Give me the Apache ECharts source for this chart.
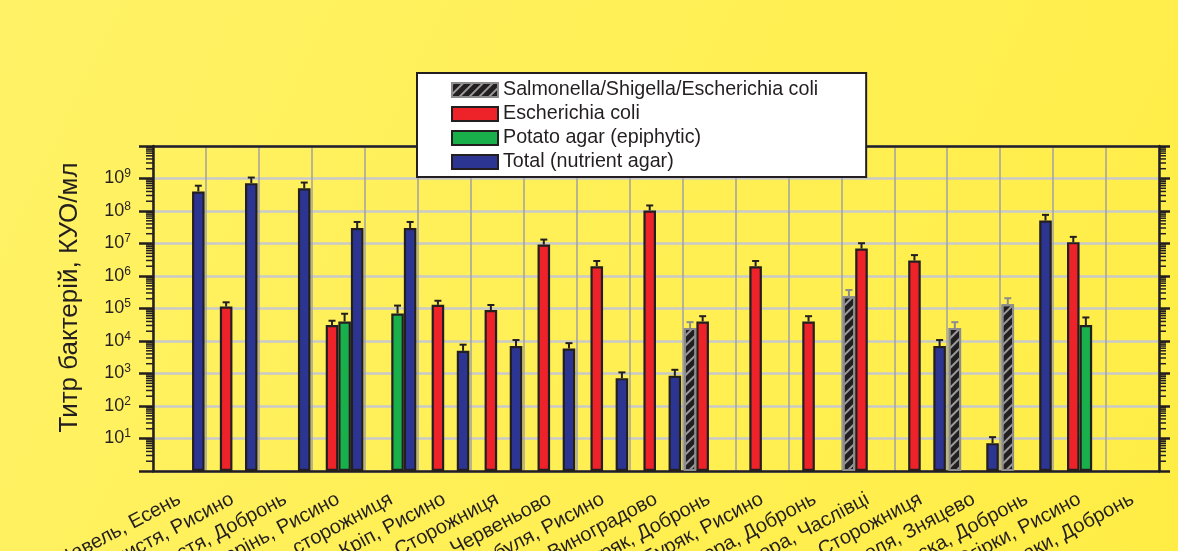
<!DOCTYPE html>
<html>
<head>
<meta charset="utf-8">
<script src="https://cdn.jsdelivr.net/npm/echarts@6/dist/echarts.min.js"></script>
<style>
  html, body { margin: 0; padding: 0; }
  #chart { width: 1178px; height: 551px; }
</style>
</head>
<body>
<div id="chart"></div>
<script>
// Sampling sites (product, village)
const categories = [
  'Щавель, Есень',
  'Петрушка листя, Рисино',
  'Петрушка листя, Добронь',
  'Петрушка корінь, Рисино',
  'Петрушка корінь, сторожниця',
  'Кріп, Рисино',
  'Кріп, Сторожниця',
  'Кріп, Червеньово',
  'Цибуля, Рисино',
  'Цибуля, Виноградово',
  'Буряк, Добронь',
  'Буряк, Рисино',
  'Селера, Добронь',
  'Селера, Часлівці',
  'Селера, Сторожниця',
  'Квасоля, Зняцево',
  'Редиска, Добронь',
  'Огірки, Рисино',
  'Пастернаки, Добронь'
];

const seriesNames = [
  'Salmonella/Shigella/Escherichia coli',
  'Escherichia coli',
  'Potato agar (epiphytic)',
  'Total (nutrient agar)'
];

// Bacterial titre, CFU/ml (null = not detected / not measured)
const salmonellaValues = [null, null, null, null, null, null, null, null, null, null, 2.5e4, null, null, 2.4e5, null, 2.5e4, 1.35e5, null, null];
const coliValues       = [null, 1.15e5, null, 3.1e4, null, 1.3e5, 9e4, 9.3e6, 2e6, 1.04e8, 4e4, 2e6, 4e4, 7e6, 3e6, null, null, 1.1e7, null];
const potatoValues     = [null, null, null, 4e4, 7e4, null, null, null, null, null, null, null, null, null, null, null, null, 3.1e4, null];
const totalValues      = [4e8, 7.2e8, 5e8, 3e7, 3e7, 5e3, 7e3, 5.9e3, 720, 850, null, null, null, null, 7e3, 7.2, 5.1e7, null, null];

// Upper error (absolute, CFU/ml)
const salmonellaErr = [null, null, null, null, null, null, null, null, null, null, 1.3e4, null, null, 1.3e5, null, 1.3e4, 7.2e4, null, null];
const coliErr       = [null, 4e4, null, 1.1e4, null, 4.3e4, 3.8e4, 3.9e6, 0.9e6, 4.4e7, 1.8e4, 0.9e6, 1.8e4, 3.2e6, 1.4e6, null, null, 5e6, null];
const potatoErr     = [null, null, null, 2.9e4, 5.3e4, null, null, null, null, null, null, null, null, null, null, null, null, 2.2e4, null];
const totalErr      = [2e8, 3.5e8, 2.5e8, 1.6e7, 1.6e7, 2.7e3, 3.7e3, 2.7e3, 360, 450, null, null, null, null, 3.7e3, 3.8, 2.5e7, null, null];

// Minor log ticks along the value axis
const minorTickMultipliers = [2, 3, 4, 5, 6, 7, 8, 9];
const decades = [1, 10, 100, 1e3, 1e4, 1e5, 1e6, 1e7, 1e8, 1e9];

const FONT = 'Liberation Sans, Arial, sans-serif';
const INK = '#231F20';
const colors = ['#231F20', '#EE2229', '#19B04B', '#2C3592'];
const valueSets = [salmonellaValues, coliValues, potatoValues, totalValues];
const errSets = [salmonellaErr, coliErr, potatoErr, totalErr];
const CATEGORY_GAP = 0.05;

const barSeries = seriesNames.map((name, i) => {
  const hatched = i === 0;
  return {
    name: name,
    type: 'bar',
    data: valueSets[i],
    barGap: '0%',
    barCategoryGap: (CATEGORY_GAP * 100) + '%',
    z: 3,
    itemStyle: hatched ? {
      color: colors[i],
      borderColor: '#8C8C8C',
      borderWidth: 2,
      decal: {
        symbol: 'rect',
        symbolSize: 1,
        dashArrayX: [1, 0],
        dashArrayY: [2, 5],
        rotation: -Math.PI / 4,
        color: '#9A9A9A'
      }
    } : {
      color: colors[i],
      borderColor: INK,
      borderWidth: 2.2
    }
  };
});

// Error bar records: [category, value, value + err, slot]
const errData = [];
valueSets.forEach((vals, slot) => {
  vals.forEach((v, c) => {
    if (v != null && errSets[slot][c] != null) {
      errData.push([c, v, v + errSets[slot][c], slot]);
    }
  });
});

const errorSeries = {
  name: 'errors',
  type: 'custom',
  z: 4,
  silent: true,
  data: errData,
  encode: { x: 0, y: [1, 2] },
  renderItem: function (params, api) {
    const c = api.value(0), v = api.value(1), top = api.value(2), slot = api.value(3);
    const base = api.coord([c, v]);
    const tp = api.coord([c, top]);
    const band = api.size([1, 0], [c, v])[0];
    const bw = band * (1 - CATEGORY_GAP) / 4;
    const x = base[0] + (slot - 1.5) * bw;
    const stroke = slot === 0 ? '#8C8C8C' : INK;
    const style = { stroke: stroke, lineWidth: 2 };
    return {
      type: 'group',
      children: [
        { type: 'line', shape: { x1: x, y1: base[1], x2: x, y2: tp[1] }, style: style },
        { type: 'line', shape: { x1: x - 3.5, y1: tp[1], x2: x + 3.5, y2: tp[1] }, style: style }
      ]
    };
  }
};

const minorData = [];
decades.forEach(d => minorTickMultipliers.forEach(k => minorData.push([0, k * d])));

const minorTickSeries = {
  name: 'minor-ticks',
  type: 'custom',
  silent: true,
  z: 5,
  data: minorData,
  renderItem: function (params, api) {
    const p = api.coord([0, api.value(1)]);
    const cs = params.coordSys;
    const style = { stroke: INK, lineWidth: 1.5 };
    return {
      type: 'group',
      children: [
        { type: 'line', shape: { x1: cs.x - 7, y1: p[1], x2: cs.x, y2: p[1] }, style: style },
        { type: 'line', shape: { x1: cs.x + cs.width, y1: p[1], x2: cs.x + cs.width + 7, y2: p[1] }, style: style }
      ]
    };
  }
};

const logLabel = function (v) {
  const e = Math.round(Math.log10(v));
  if (e <= 0 || e >= 10) return '';
  return '{b|10}{s|' + e + '}';
};

const chart = echarts.init(document.getElementById('chart'), null, { renderer: 'canvas' });

chart.setOption({
  backgroundColor: new echarts.graphic.LinearGradient(0, 0, 1, 1, [
    { offset: 0, color: '#FFF266' },
    { offset: 1, color: '#FFED45' }
  ]),
  animation: false,
  textStyle: { fontFamily: FONT, color: INK },
  legend: {
    data: seriesNames,
    orient: 'vertical',
    left: 417,
    top: 73,
    icon: 'rect',
    itemWidth: 46,
    itemHeight: 14,
    itemGap: 4,
    padding: [7, 48, 5, 34],
    backgroundColor: '#FFFFFF',
    borderColor: INK,
    borderWidth: 2,
    z: 10,
    textStyle: { fontSize: 19.7, lineHeight: 20, color: INK, fontFamily: FONT }
  },
  grid: { left: 153, right: 19, top: 146, bottom: 80, containLabel: false, outerBoundsMode: 'none' },
  xAxis: [{
    type: 'category',
    position: 'bottom',
    data: categories,
    axisLine: { lineStyle: { color: INK, width: 2.5 } },
    axisTick: { alignWithLabel: true, inside: true, length: 4, lineStyle: { color: INK, width: 1.5 } },
    axisLabel: { interval: 0, rotate: 28, margin: 27, fontSize: 20, color: INK, fontFamily: FONT },
    splitLine: { show: true, lineStyle: { color: '#A0A0A0', width: 1.5 } }
  }, {
    type: 'category',
    position: 'top',
    data: categories,
    axisLine: { lineStyle: { color: INK, width: 2.5 } },
    axisTick: { alignWithLabel: true, inside: true, length: 4, lineStyle: { color: INK, width: 1.5 } },
    axisLabel: { show: false },
    splitLine: { show: false }
  }],
  yAxis: [{
    type: 'log',
    logBase: 10,
    min: 1,
    max: 1e10,
    interval: 1,
    position: 'left',
    name: 'Титр бактерій, КУО/мл',
    nameLocation: 'middle',
    nameGap: 70,
    nameTextStyle: { fontSize: 26, color: INK, fontFamily: FONT, padding: [0, 0, 0, 22] },
    axisLine: { show: true, lineStyle: { color: INK, width: 2.5 } },
    axisTick: { show: true, length: 14, lineStyle: { color: INK, width: 2.5 } },
    axisLabel: {
      margin: 22,
      formatter: logLabel,
      rich: {
        b: { fontSize: 18, color: INK, fontFamily: FONT },
        s: { fontSize: 12, color: INK, fontFamily: FONT, padding: [0, 0, 9, 0] }
      }
    },
    splitLine: { show: true, lineStyle: { color: '#C9C9C9', width: 2.5 } }
  }, {
    type: 'log',
    logBase: 10,
    min: 1,
    max: 1e10,
    interval: 1,
    position: 'right',
    axisLine: { show: true, lineStyle: { color: INK, width: 2.5 } },
    axisTick: { show: true, length: 11, lineStyle: { color: INK, width: 2.5 } },
    axisLabel: { show: false },
    splitLine: { show: false }
  }],
  series: barSeries.concat([errorSeries, minorTickSeries])
});
</script>
</body>
</html>
